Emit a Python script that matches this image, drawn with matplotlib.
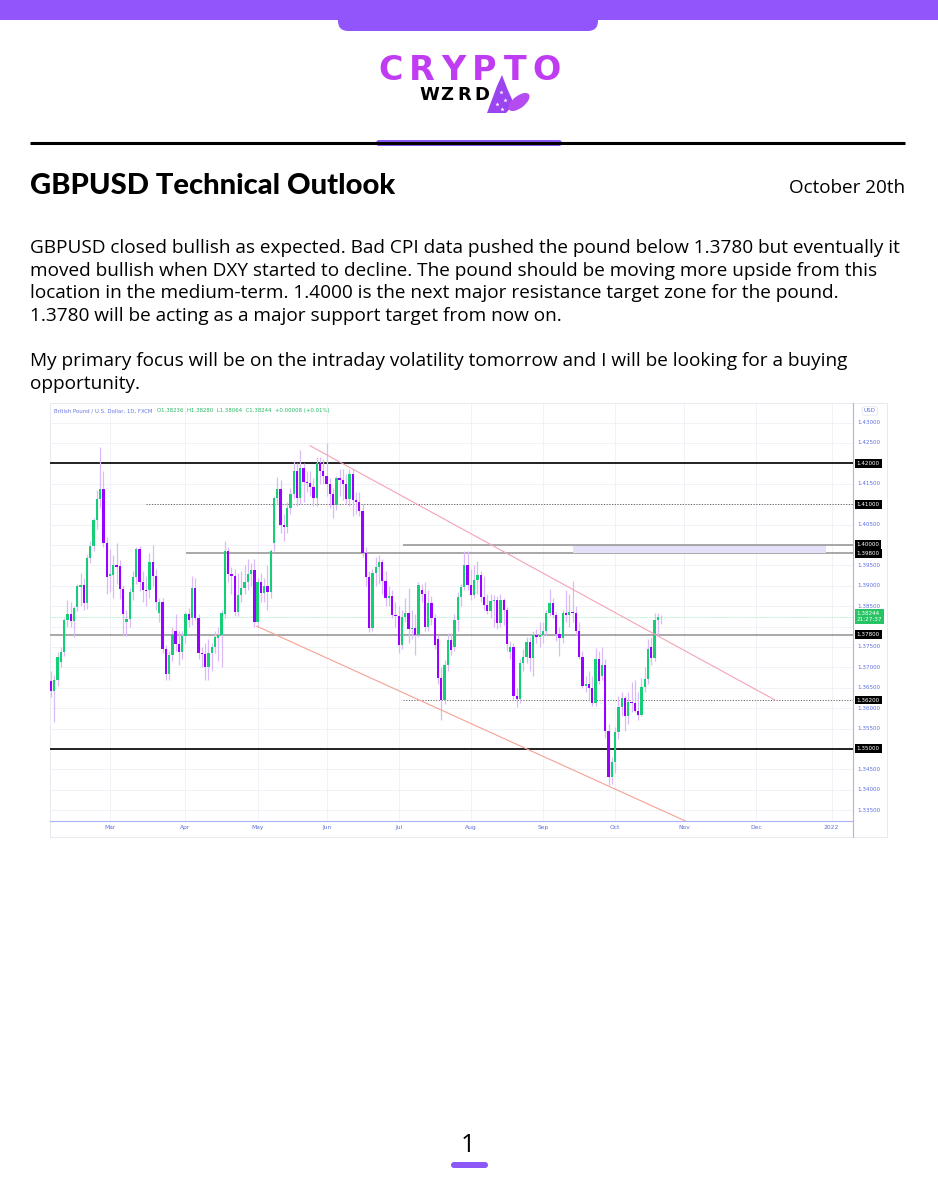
import matplotlib
matplotlib.use("Agg")
import matplotlib.pyplot as plt
from matplotlib.patches import Rectangle, FancyBboxPatch, Polygon, Ellipse
import numpy as np
import pandas as pd

# ---------------- data ----------------
start_date = "2021-02-03"
opens = [
1.3667,1.3643,1.3669,1.3714,1.3738,1.3816,1.3830,1.3814,1.3847,1.3898,
1.3902,1.3857,1.3969,1.3998,1.4061,1.4112,1.4138,1.4004,1.3924,1.3926,
1.3951,1.3948,1.3893,1.3812,1.3818,1.3885,1.3922,1.3989,1.3910,1.3890,
1.3889,1.3959,1.3925,1.3832,1.3861,1.3744,1.3683,1.3730,1.3789,1.3757,
1.3738,1.3778,1.3830,1.3820,1.3894,1.3820,1.3735,1.3732,1.3701,1.3734,
1.3749,1.3772,1.3780,1.3830,1.3985,1.3929,1.3925,1.3836,1.3877,1.3895,
1.3910,1.3929,1.3939,1.3812,1.3908,1.3881,1.3900,1.3884,1.4004,1.4114,
1.4136,1.4049,1.4045,1.4090,1.4126,1.4180,1.4114,1.4188,1.4155,1.4151,
1.4143,1.4114,1.4200,1.4180,1.4170,1.4149,1.4125,1.4098,1.4165,1.4160,
1.4150,1.4112,1.4175,1.4110,1.4105,1.4082,1.3980,1.3922,1.3796,1.3932,
1.3945,1.3957,1.3912,1.3869,1.3875,1.3828,1.3826,1.3755,1.3824,1.3834,
1.3793,1.3797,1.3780,1.3890,1.3880,1.3799,1.3858,1.3820,1.3770,1.3673,
1.3620,1.3706,1.3766,1.3750,1.3815,1.3873,1.3898,1.3951,1.3902,1.3877,
1.3914,1.3926,1.3873,1.3853,1.3838,1.3863,1.3866,1.3808,1.3866,1.3840,
1.3737,1.3751,1.3630,1.3622,1.3710,1.3726,1.3763,1.3722,1.3779,1.3775,
1.3779,1.3788,1.3832,1.3858,1.3829,1.3782,1.3771,1.3834,1.3829,1.3836,
1.3834,1.3790,1.3726,1.3654,1.3658,1.3650,1.3612,1.3720,1.3678,1.3705,
1.3545,1.3432,1.3469,1.3542,1.3604,1.3624,1.3580,1.3616,1.3613,1.3593,
1.3583,1.3653,1.3671,1.3750,1.3723,1.3815,1.38236]
highs = [
1.3690,1.3681,1.3738,1.3750,1.3822,1.3865,1.3860,1.3850,1.3905,1.3930,
1.3920,1.3975,1.4010,1.4066,1.4135,1.4241,1.4180,1.4020,1.3990,1.3975,
1.4005,1.3962,1.3903,1.3840,1.3895,1.3935,1.3996,1.3998,1.3935,1.3925,
1.3980,1.4000,1.3940,1.3870,1.3870,1.3755,1.3740,1.3800,1.3830,1.3790,
1.3790,1.3835,1.3845,1.3925,1.3920,1.3830,1.3750,1.3760,1.3770,1.3760,
1.3790,1.3800,1.3840,1.4010,1.3995,1.3945,1.3940,1.3930,1.3935,1.3950,
1.3965,1.3955,1.3965,1.3920,1.3930,1.3920,1.3950,1.3990,1.4120,1.4166,
1.4160,1.4075,1.4105,1.4140,1.4205,1.4200,1.4233,1.4200,1.4180,1.4180,
1.4165,1.4215,1.4215,1.4210,1.4250,1.4165,1.4140,1.4170,1.4185,1.4185,
1.4175,1.4185,1.4185,1.4130,1.4130,1.4100,1.3995,1.3935,1.3940,1.3970,
1.3975,1.3965,1.3935,1.3900,1.3890,1.3860,1.3850,1.3840,1.3870,1.3895,
1.3840,1.3830,1.3910,1.3905,1.3908,1.3890,1.3875,1.3830,1.3780,1.3700,
1.3718,1.3785,1.3785,1.3830,1.3885,1.3905,1.3984,1.3984,1.3940,1.3950,
1.3960,1.3935,1.3925,1.3880,1.3880,1.3878,1.3875,1.3880,1.3870,1.3848,
1.3765,1.3760,1.3650,1.3720,1.3745,1.3775,1.3775,1.3790,1.3795,1.3810,
1.3810,1.3840,1.3892,1.3870,1.3835,1.3800,1.3840,1.3890,1.3880,1.3912,
1.3850,1.3810,1.3740,1.3680,1.3690,1.3680,1.3748,1.3740,1.3750,1.3720,
1.3560,1.3480,1.3555,1.3630,1.3640,1.3630,1.3640,1.3665,1.3670,1.3640,
1.3675,1.3700,1.3770,1.3775,1.3834,1.3834,1.38280]
lows = [
1.3628,1.3566,1.3655,1.3700,1.3728,1.3800,1.3798,1.3775,1.3838,1.3850,
1.3840,1.3842,1.3955,1.3985,1.4040,1.4090,1.3995,1.3880,1.3885,1.3870,
1.3905,1.3868,1.3778,1.3778,1.3800,1.3865,1.3905,1.3888,1.3860,1.3850,
1.3870,1.3900,1.3840,1.3810,1.3735,1.3670,1.3668,1.3715,1.3740,1.3705,
1.3720,1.3760,1.3800,1.3805,1.3815,1.3720,1.3700,1.3668,1.3668,1.3690,
1.3735,1.3715,1.3700,1.3820,1.3910,1.3880,1.3825,1.3825,1.3860,1.3880,
1.3890,1.3900,1.3800,1.3800,1.3860,1.3860,1.3840,1.3870,1.3985,1.4100,
1.4030,1.4010,1.4030,1.4075,1.4115,1.4095,1.4100,1.4105,1.4130,1.4120,
1.4095,1.4095,1.4150,1.4150,1.4120,1.4090,1.4065,1.4085,1.4120,1.4110,
1.4100,1.4095,1.4070,1.4075,1.4070,1.3970,1.3900,1.3786,1.3790,1.3900,
1.3905,1.3880,1.3850,1.3850,1.3820,1.3800,1.3735,1.3745,1.3810,1.3760,
1.3770,1.3730,1.3775,1.3860,1.3790,1.3790,1.3805,1.3745,1.3660,1.3572,
1.3610,1.3690,1.3730,1.3740,1.3790,1.3850,1.3890,1.3890,1.3865,1.3870,
1.3880,1.3860,1.3840,1.3830,1.3820,1.3800,1.3795,1.3800,1.3805,1.3740,
1.3720,1.3620,1.3602,1.3612,1.3690,1.3710,1.3690,1.3680,1.3760,1.3750,
1.3760,1.3780,1.3825,1.3820,1.3765,1.3727,1.3760,1.3810,1.3800,1.3810,
1.3780,1.3720,1.3650,1.3640,1.3620,1.3605,1.3605,1.3660,1.3670,1.3528,
1.3412,1.3415,1.3440,1.3525,1.3580,1.3545,1.3560,1.3590,1.3590,1.3570,
1.3580,1.3640,1.3660,1.3705,1.3715,1.3780,1.38064]
closes = [
1.3643,1.3669,1.3726,1.3738,1.3816,1.3830,1.3814,1.3845,1.3900,1.3902,
1.3857,1.3969,1.3998,1.4061,1.4112,1.4136,1.4004,1.3922,1.3928,1.3951,
1.3947,1.3893,1.3830,1.3818,1.3885,1.3922,1.3989,1.3910,1.3890,1.3887,
1.3959,1.3925,1.3861,1.3861,1.3744,1.3683,1.3730,1.3782,1.3757,1.3738,
1.3778,1.3830,1.3817,1.3894,1.3820,1.3735,1.3732,1.3701,1.3734,1.3749,
1.3774,1.3780,1.3832,1.3985,1.3929,1.3925,1.3836,1.3877,1.3895,1.3910,
1.3929,1.3939,1.3812,1.3908,1.3881,1.3900,1.3884,1.3984,1.4114,1.4136,
1.4049,1.4045,1.4090,1.4126,1.4180,1.4114,1.4188,1.4155,1.4151,1.4143,
1.4114,1.4200,1.4180,1.4170,1.4149,1.4125,1.4098,1.4165,1.4160,1.4150,
1.4112,1.4175,1.4110,1.4105,1.4082,1.3980,1.3922,1.3796,1.3932,1.3945,
1.3957,1.3912,1.3869,1.3875,1.3828,1.3826,1.3755,1.3824,1.3834,1.3793,
1.3797,1.3780,1.3901,1.3880,1.3799,1.3858,1.3820,1.3755,1.3673,1.3620,
1.3706,1.3766,1.3743,1.3815,1.3873,1.3898,1.3951,1.3902,1.3877,1.3914,
1.3926,1.3873,1.3853,1.3838,1.3863,1.3866,1.3808,1.3866,1.3840,1.3758,
1.3751,1.3630,1.3622,1.3710,1.3726,1.3763,1.3722,1.3779,1.3775,1.3779,
1.3788,1.3832,1.3858,1.3829,1.3782,1.3771,1.3834,1.3829,1.3836,1.3834,
1.3790,1.3726,1.3654,1.3658,1.3650,1.3612,1.3720,1.3667,1.3705,1.3545,
1.3432,1.3469,1.3542,1.3604,1.3624,1.3580,1.3616,1.3613,1.3593,1.3583,
1.3653,1.3671,1.3745,1.3723,1.3815,1.3824,1.38244]

axis_end_date = "2022-01-31"
price_ticks = [1.335, 1.340, 1.345, 1.350, 1.355, 1.360, 1.365, 1.370, 1.375, 1.380,
               1.385, 1.390, 1.395, 1.400, 1.405, 1.410, 1.415, 1.420, 1.425, 1.430]
hidden_ticks = [1.380, 1.400, 1.410, 1.420]
boxed_levels = [1.420, 1.410, 1.400, 1.398, 1.378, 1.362, 1.350]
last_price = 1.38244
countdown = "21:27:37"
header_name = "British Pound / U.S. Dollar, 1D, FXCM"
header_ohlc = "O1.38236  H1.38280  L1.38064  C1.38244  +0.00008 (+0.01%)"

# drawn levels: (price, start bar, style)
level_lines = [
    (1.420, -1, "black"),
    (1.350, -1, "black"),
    (1.378, -1, "grey"),
    (1.398, 41.2, "grey"),
    (1.400, 107.2, "greytop"),
    (1.410, 29.0, "dotted"),
    (1.362, 107.2, "dotted"),
]
zone = (159.1, 236.3, 1.398, 1.400)
trend_upper = [(79.0, 1.4243), (220.7, 1.3620)]
trend_lower = [(62.7, 1.3801), (193.8, 1.3322)]

body_lines_1 = [
    "GBPUSD closed bullish as expected. Bad CPI data pushed the pound below 1.3780 but eventually it",
    "moved bullish when DXY started to decline. The pound should be moving more upside from this",
    "location in the medium-term. 1.4000 is the next major resistance target zone for the pound.",
    "1.3780 will be acting as a major support target from now on.",
]
body_lines_2 = [
    "My primary focus will be on the intraday volatility tomorrow and I will be looking for a buying",
    "opportunity.",
]

# ---------------- figure / page ----------------
W, H = 938, 1200
fig = plt.figure(figsize=(W / 100, H / 100), dpi=100)
page = fig.add_axes([0, 0, 1, 1])
page.set_xlim(0, W)
page.set_ylim(H, 0)
page.axis("off")

PURPLE = "#9155fb"
body_font = ["Open Sans", "DejaVu Sans"]

# top band and tab
page.add_patch(Rectangle((0, 0), W, 20, color=PURPLE, lw=0))
page.add_patch(FancyBboxPatch((338, -12), 260, 43, boxstyle="round,pad=0,rounding_size=10",
                              color=PURPLE, lw=0))

# logo
logo_col = "#c03cf3"
for k, ch in enumerate("CRYPTO"):
    page.text(391 + k * 31.0, 71, ch, fontsize=24, fontweight="bold", color=logo_col,
              ha="center", va="center", family="DejaVu Sans")
for k, ch in enumerate("WZRD"):
    page.text(429 + k * 17.5, 95, ch, fontsize=13, fontweight="bold", color="black",
              ha="center", va="center", family="DejaVu Sans")
page.add_patch(Polygon([(502, 75), (497, 86), (487, 113), (506, 113), (514, 104), (507, 88)],
                       closed=True, color="#9b45f0", lw=0))
page.add_patch(Ellipse((519, 102), 25, 12, angle=-38, color="#b54cf2", lw=0))
for sx, sy in [(501, 92), (505, 100), (497, 104), (502, 109)]:
    page.plot(sx, sy, marker="*", color="white", ms=3.2, mew=0)

# separator
page.plot([30, 905], [143, 143], color="black", lw=2.2, solid_capstyle="butt")
page.add_patch(FancyBboxPatch((376, 140), 186, 6, boxstyle="round,pad=0,rounding_size=3",
                              color="#8b57f6", lw=0))

# title
page.text(30, 186, "GBPUSD Technical Outlook", fontsize=21, fontweight="black",
          family=["Lato", "DejaVu Sans"], ha="left", va="center", color="black")
page.text(905, 188, "October 20th", fontsize=13.6, family=body_font, ha="right", va="center")

for i, t in enumerate(body_lines_1):
    page.text(30, 248 + i * 22.6, t, fontsize=13.7, family=body_font, ha="left", va="center")
for i, t in enumerate(body_lines_2):
    page.text(30, 361 + i * 22.6, t, fontsize=13.7, family=body_font, ha="left", va="center")

# page number
page.text(468, 1146, "1", fontsize=18, family=body_font, ha="center", va="center")
page.add_patch(FancyBboxPatch((451, 1162), 37, 6, boxstyle="round,pad=0,rounding_size=3",
                              color="#8b57f6", lw=0))

# chart frame
page.add_patch(Rectangle((50, 403), 837, 434, fill=False, ec="#e4e6ee", lw=0.6))
page.plot([853, 853], [403, 837], color="#aab3f7", lw=0.8)

# ---------------- chart ----------------
dates = pd.bdate_range(start_date, periods=len(closes))
all_days = pd.bdate_range(start_date, axis_end_date)
month_pos = [i for i in range(1, len(all_days)) if all_days[i].month != all_days[i - 1].month]
month_lab = [all_days[i].strftime("%b") if all_days[i].month != 1 else str(all_days[i].year)
             for i in month_pos]

x0, x1 = 50, 853
y0, y1 = 403, 821
ax = fig.add_axes([x0 / W, 1 - y1 / H, (x1 - x0) / W, (y1 - y0) / H])
ax.set_xlim(-0.3, 244.5)
ax.set_ylim(1.33235, 1.43478)
ax.set_facecolor("none")
for s in ["top", "right", "left"]:
    ax.spines[s].set_visible(False)
ax.spines["bottom"].set_color("#aab3f7")
ax.spines["bottom"].set_linewidth(0.8)

ax.set_yticks(price_ticks)
ax.tick_params(axis="y", length=0, labelleft=False)
ax.set_xticks(month_pos)
ax.set_xticklabels(month_lab)
ax.tick_params(axis="x", length=0, labelsize=4.3, labelcolor="#5d6fe0", pad=3)
ax.grid(True, color="#eef0f6", lw=0.6, zorder=0)
ax.set_axisbelow(True)

xs = np.arange(len(closes))
o = np.array(opens); c = np.array(closes); hi = np.array(highs); lo = np.array(lows)
up = c >= o
GREEN = "#14cf76"
VIOLET = "#9a00ff"
WICK = "#dcbaf8"

# levels and zone
for p, sx, st in level_lines:
    if st == "black":
        ax.hlines(p, sx, 244.5, color="#111111", lw=1.3, zorder=2)
    elif st == "grey":
        ax.hlines(p, sx, 244.5, color="#999999", lw=1.2, zorder=2)
    elif st == "greytop":
        ax.hlines(p, sx, 244.5, color="#999999", lw=1.2, zorder=2.6)
    else:
        ax.hlines(p, sx, 244.5, color="#666666", lw=0.7, linestyles=(0, (1.2, 1.6)), zorder=2)
ax.add_patch(Rectangle((zone[0], zone[2]), zone[1] - zone[0], zone[3] - zone[2],
                       facecolor="#e4e0f7", edgecolor="none", zorder=2.3))
ax.axhline(last_price, color="#9be8bd", lw=0.6, ls=(0, (1, 1)), zorder=1)

# candles
ax.vlines(xs, lo, hi, color=WICK, lw=0.9, zorder=3)
bottoms = np.minimum(o, c)
heights = np.maximum(np.abs(c - o), 0.00007)
ax.bar(xs[up], heights[up], bottom=bottoms[up], width=0.7, color=GREEN, lw=0, zorder=4)
ax.bar(xs[~up], heights[~up], bottom=bottoms[~up], width=0.7, color=VIOLET, lw=0, zorder=4)

# trend lines
for tl, col in [(trend_upper, "#f4a3b6"), (trend_lower, "#f5a393")]:
    ax.plot([tl[0][0], tl[1][0]], [tl[0][1], tl[1][1]], color=col, lw=0.8, zorder=5)

# header in chart
ax.text(0.005, 0.981, header_name, transform=ax.transAxes, fontsize=3.9, color="#6a78e0",
        ha="left", va="center")
ax.text(0.1335, 0.981, header_ohlc, transform=ax.transAxes, fontsize=3.9, color="#25b862",
        ha="left", va="center")

# price axis labels
ytr = ax.get_yaxis_transform()
for p in price_ticks:
    if any(abs(p - hdn) < 1e-9 for hdn in hidden_ticks):
        continue
    ax.text(1.0055, p, f"{p:.5f}", transform=ytr, fontsize=4.1, color="#5d6fe0",
            ha="left", va="center", clip_on=False)
for p in boxed_levels:
    ax.text(1.0045, p, f"{p:.5f}", transform=ytr, fontsize=4.1, color="white", ha="left",
            va="center", clip_on=False,
            bbox=dict(boxstyle="square,pad=0.35", fc="black", ec="none"))
ax.text(1.0045, last_price, f"{last_price:.5f}\n{countdown}", transform=ytr, fontsize=4.1,
        color="white", ha="left", va="center", linespacing=1.1, clip_on=False,
        bbox=dict(boxstyle="square,pad=0.35", fc="#27c464", ec="none"))
ax.text(1.021, 0.981, "USD", transform=ax.transAxes, fontsize=4.1, color="#5d6fe0",
        ha="center", va="center", clip_on=False,
        bbox=dict(boxstyle="round,pad=0.3,rounding_size=0.4", fc="white", ec="#dfe2ee", lw=0.5))

fig.savefig("out.png", dpi=100)
